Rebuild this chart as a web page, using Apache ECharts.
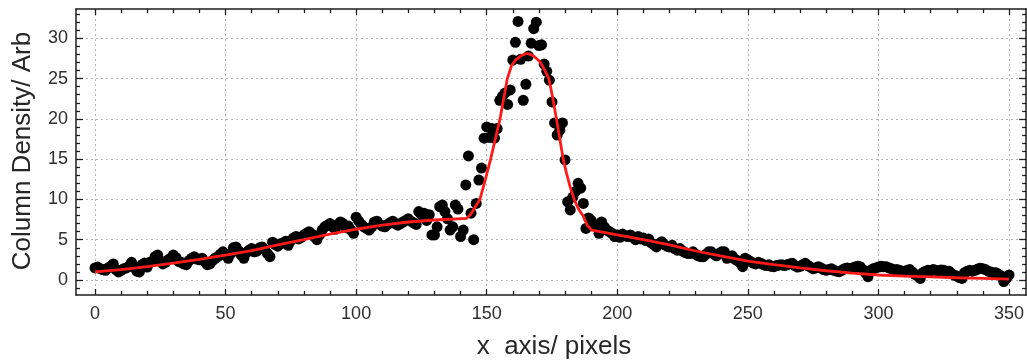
<!DOCTYPE html>
<html>
<head>
<meta charset="utf-8">
<script src="https://cdn.jsdelivr.net/npm/echarts@6/dist/echarts.min.js"></script>
<style>
  html, body { margin: 0; padding: 0; background: #ffffff; }
  #chart { width: 1027px; height: 361px; }
</style>
</head>
<body>
<div id="chart"></div>
<script>
// Measured column density, one sample per pixel along x (x = 0 … 350)
const densityY = [
  1.5, 1.6, 1.4, 1.3, 1.2, 1.5, 1.7, 2.0, 1.3, 1.0,
  1.2, 1.4, 1.5, 1.7, 2.2, 1.6, 1.1, 1.0, 1.9, 2.1,
  1.6, 2.2, 2.3, 2.9, 3.1, 2.4, 2.0, 2.2, 2.5, 2.7,
  3.1, 2.8, 2.3, 2.2, 2.0, 1.9, 2.4, 2.7, 2.9, 2.6,
  2.5, 2.7, 2.3, 1.9, 2.0, 2.4, 2.7, 2.9, 3.2, 3.5,
  3.1, 2.7, 3.3, 4.0, 4.1, 3.6, 3.1, 2.7, 3.4, 3.7,
  3.9, 3.5, 3.6, 4.0, 4.1, 3.8, 3.3, 2.9, 4.7, 4.4,
  4.2, 4.5, 4.6, 4.8, 4.3, 4.9, 5.2, 5.4, 5.1, 5.3,
  5.6, 5.8, 6.0, 5.7, 5.4, 5.0, 5.6, 6.2, 6.6, 6.8,
  7.0, 6.6, 6.3, 6.9, 7.2, 7.0, 6.5, 6.7, 6.2, 5.8,
  7.8, 7.3, 6.9, 6.6, 6.4, 6.2, 6.6, 7.2, 7.3, 6.9,
  6.7, 6.6, 6.9, 7.1, 7.3, 7.0, 6.8, 7.0, 7.2, 7.4,
  7.6, 7.3, 7.1, 6.9, 8.5, 8.1, 8.3, 7.4, 8.1, 5.6,
  5.6, 6.6, 9.1, 9.3, 8.5, 7.6, 6.2, 6.6, 9.3, 8.8,
  5.4, 6.2, 11.8, 15.4, 8.3, 5.0, 9.5, 12.4, 13.9, 17.6,
  19.0, 17.7, 18.8, 17.6, 18.8, 22.3, 22.8, 23.2, 21.8, 23.6,
  27.3, 29.5, 32.1, 27.4, 22.3, 24.3, 27.8, 29.4, 31.2, 32.0,
  29.1, 29.2, 26.8, 25.9, 24.8, 22.1, 19.5, 18.0, 18.6, 19.5,
  14.9, 9.7, 8.7, 10.3, 11.0, 12.0, 11.4, 9.5, 6.4, 7.7,
  7.4, 6.9, 6.6, 5.8, 7.2, 6.6, 6.2, 6.0, 5.8, 5.4,
  5.6, 5.3, 5.7, 5.5, 5.4, 5.6, 5.3, 5.0, 5.4, 5.1,
  5.2, 4.9, 5.1, 4.6, 4.4, 4.1, 4.5, 4.75, 4.4, 4.2,
  4.1, 4.3, 3.9, 3.7, 3.9, 3.6, 3.4, 3.3, 3.3, 3.5,
  3.2, 3.0, 2.9, 2.9, 3.2, 3.5, 3.5, 3.2, 3.0, 3.3,
  3.5, 3.5, 2.7, 2.9, 3.0, 2.6, 2.4, 2.2, 1.65, 2.7,
  2.5, 2.3, 2.1, 2.0, 2.2, 2.07, 1.9, 1.8, 1.9, 1.7,
  1.65, 1.8, 1.86, 1.9, 1.8, 1.9, 2.0, 2.07, 1.8, 1.6,
  1.7, 1.9, 2.07, 1.8, 1.6, 1.4, 1.5, 1.65, 1.5, 1.3,
  1.2, 1.3, 1.4, 1.2, 1.1, 1.03, 1.2, 1.4, 1.5, 1.4,
  1.5, 1.6, 1.7, 1.65, 1.3, 0.9, 0.41, 1.2, 1.4, 1.5,
  1.6, 1.7, 1.65, 1.65, 1.5, 1.4, 1.2, 1.3, 1.2, 1.1,
  1.03, 1.2, 1.3, 1.0, 0.7, 0.5, 0.2, 0.9, 1.1, 1.2,
  1.1, 1.3, 1.2, 1.1, 1.24, 1.2, 1.0, 1.1, 0.8, 0.6,
  0.5, 0.3, 0.2, 0.9, 1.1, 1.2, 1.1, 1.2, 1.35, 1.45,
  1.4, 1.3, 1.1, 1.0, 0.9, 0.9, 0.7, 0.5, -0.2, 0.2,
  0.62
];

// Fitted profile (x, value)
const fitX = [0, 10, 20, 30, 40, 50, 60, 70, 80, 90, 100, 110, 120, 130, 142.3,
  144, 145.5, 147.4, 149.5, 151.5, 153.3, 155.1, 156.5, 157.9, 159.5, 161, 163, 165, 166,
  168, 170.4, 172, 173.8, 175.3, 176.7, 178, 179.3, 180.6, 182, 183.5, 185, 187, 188.5, 190.2,
  200, 210, 220, 230, 240, 250, 260, 270, 280, 290, 300, 310, 320, 330, 340, 350];
const fitY = [1.0, 1.3, 1.65, 2.1, 2.55, 3.1, 3.65, 4.35, 5.0, 5.7, 6.3, 6.8, 7.2, 7.45, 7.65,
  8.2, 9.0, 10.0, 12.5, 15.0, 17.5, 20.0, 22.5, 25.0, 26.6, 27.3, 27.8, 28.1, 28.1,
  27.8, 27.1, 26.2, 25.0, 22.6, 20.0, 17.5, 15.0, 13.2, 11.5, 10.0, 8.9, 7.9, 6.8, 6.2,
  5.6, 5.0, 4.35, 3.6, 2.95, 2.35, 1.9, 1.5, 1.15, 0.85, 0.62, 0.48, 0.38, 0.28, 0.2, 0.12];

// Axis ticks
const xMajorTicks = [0, 50, 100, 150, 200, 250, 300, 350];
const yMajorTicks = [0, 5, 10, 15, 20, 25, 30];
const xMinorTicks = [];
for (let v = 10; v < 350; v += 10) if (v % 50) xMinorTicks.push(v);
const yMinorTicks = [];
for (let v = -1; v <= 33; v += 1) if (v % 5) yMinorTicks.push(v);

const X_RANGE = [-7.27, 356.6];
const Y_RANGE = [-1.862, 33.64];

const FONT = '"Liberation Sans", Arial, Helvetica, sans-serif';
const FRAME = '#1c1c1c';

function axis(kind, position, ticks, opts) {
  const range = kind === 'x' ? X_RANGE : Y_RANGE;
  return {
    type: 'value',
    position: position,
    min: range[0],
    max: range[1],
    axisLine: { show: !!opts.line, onZero: false, lineStyle: { color: FRAME, width: 1.5 } },
    axisTick: {
      show: true, inside: true, length: opts.tickLen, customValues: ticks,
      lineStyle: { color: FRAME, width: 1.3 }
    },
    axisLabel: opts.labels ? {
      show: true, customValues: ticks, margin: opts.margin,
      color: '#2e2e2e', fontSize: 18, fontFamily: FONT
    } : { show: false },
    splitLine: opts.split ? {
      show: true, lineStyle: { color: '#b4b4b4', width: 1, type: [2, 3] }
    } : { show: false },
    minorTick: { show: false },
    minorSplitLine: { show: false }
  };
}

const chart = echarts.init(document.getElementById('chart'), null, { renderer: 'canvas' });

chart.setOption({
  animation: false,
  backgroundColor: '#ffffff',
  grid: { left: 76, right: 0.5, top: 9, bottom: 66, containLabel: false },
  xAxis: [
    axis('x', 'bottom', xMajorTicks, { line: true, labels: true, split: true, tickLen: 6, margin: 10 }),
    axis('x', 'bottom', xMinorTicks, { tickLen: 4 }),
    axis('x', 'top', xMajorTicks, { line: true, tickLen: 6 }),
    axis('x', 'top', xMinorTicks, { tickLen: 4 })
  ],
  yAxis: [
    axis('y', 'left', yMajorTicks, { line: true, labels: true, split: true, tickLen: 7, margin: 8 }),
    axis('y', 'left', yMinorTicks, { tickLen: 4 }),
    axis('y', 'right', yMajorTicks, { line: true, tickLen: 7 }),
    axis('y', 'right', yMinorTicks, { tickLen: 4 })
  ],
  graphic: [
    {
      type: 'text', x: 554, y: 347,
      style: {
        text: 'x  axis/ pixels', fontSize: 26, fontFamily: FONT, fill: '#262626',
        align: 'center', verticalAlign: 'middle'
      },
      silent: true
    },
    {
      type: 'text', x: 23, y: 151, rotation: Math.PI / 2,
      style: {
        text: 'Column Density/ Arb', fontSize: 26, fontFamily: FONT, fill: '#262626',
        align: 'center', verticalAlign: 'middle'
      },
      silent: true
    }
  ],
  series: [
    {
      type: 'scatter',
      xAxisIndex: 0, yAxisIndex: 0,
      symbol: 'circle',
      symbolSize: 11,
      itemStyle: { color: '#000000', opacity: 1 },
      data: densityY.map((v, i) => [i, v]),
      z: 2
    },
    {
      type: 'line',
      xAxisIndex: 0, yAxisIndex: 0,
      showSymbol: false,
      smooth: false,
      lineStyle: { color: '#ff1a1a', width: 2.8 },
      data: fitX.map((x, i) => [x, fitY[i]]),
      z: 3
    }
  ]
});
</script>
</body>
</html>
